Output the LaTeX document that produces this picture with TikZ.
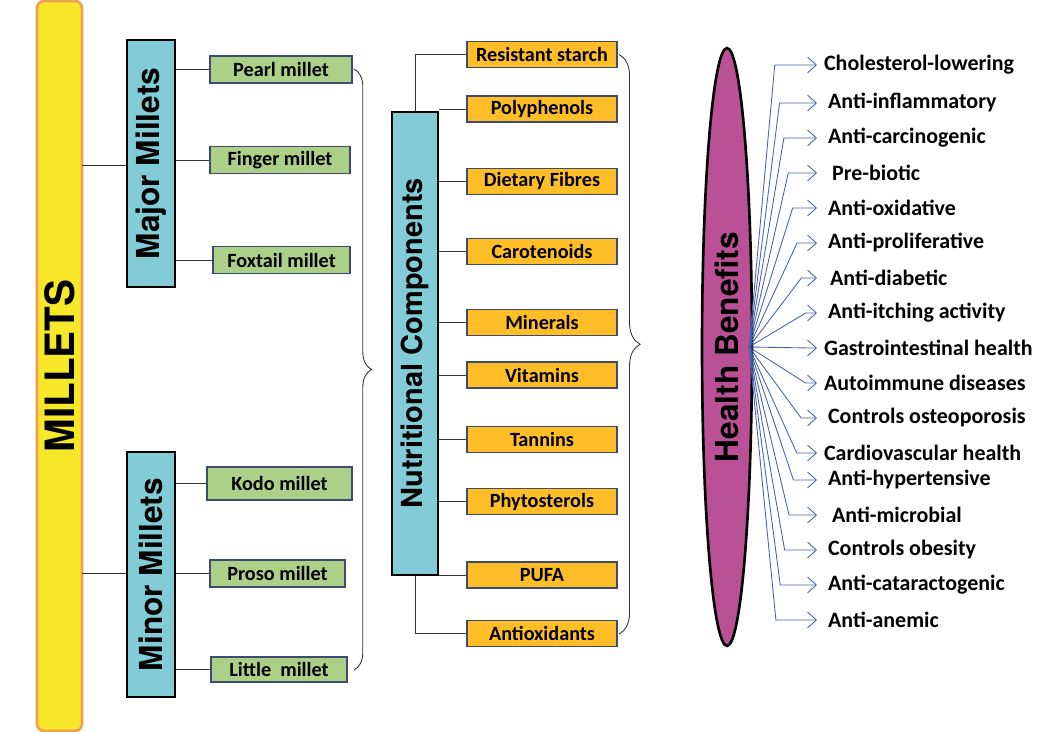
\documentclass[tikz,border=0pt]{standalone}
\usepackage{fontspec}
\setmainfont{Carlito}
\newfontfamily\headfont{TeX Gyre Heros}
\usetikzlibrary{shapes.geometric,decorations.pathreplacing,arrows.meta}
\definecolor{barYellow}{RGB}{246,232,40}
\definecolor{barOrange}{RGB}{240,160,80}
\definecolor{headCyan}{RGB}{130,204,216}
\definecolor{itemGreen}{RGB}{172,208,136}
\definecolor{itemOrange}{RGB}{255,190,40}
\definecolor{boxBlue}{RGB}{60,75,110}
\definecolor{hbMagenta}{RGB}{186,80,150}
\definecolor{arrowBlue}{RGB}{70,100,170}
\begin{document}
\begin{tikzpicture}[x=0.02cm,y=-0.02cm,
  head/.style={draw=black,line width=1.2pt,fill=headCyan,inner sep=0pt,
    font=\headfont\bfseries\fontsize{18}{20}\selectfont,rotate=90},
  green/.style={draw=boxBlue,line width=1pt,fill=itemGreen,minimum height=0.54cm,
    font=\bfseries\fontsize{11.5}{13}\selectfont,inner sep=0pt},
  orange/.style={draw=boxBlue,line width=1pt,fill=itemOrange,minimum width=3cm,
    minimum height=0.52cm,font=\bfseries\fontsize{11.5}{13}\selectfont,inner sep=0pt},
  benefit/.style={anchor=west,font=\bfseries\fontsize{12.5}{14}\selectfont,inner sep=1pt},
  link/.style={draw=black!80,line width=0.5pt},
  fan/.style={draw=arrowBlue,line width=0.5pt,-{Straight Barb[length=5pt,width=9pt]}}]
\useasboundingbox (0,0) rectangle (1050,732);

% Millets bar
\node[draw=barOrange,line width=1.5pt,fill=barYellow,rounded corners=4pt,
  minimum width=14.6cm,minimum height=0.9cm,rotate=90,inner sep=0pt,
  font=\headfont\bfseries\fontsize{23}{26}\selectfont] (millets) at (59.5,366) {MILLETS};

% Major and minor
\node[head,minimum width=4.94cm,minimum height=0.96cm] (major) at (151,163.5) {Major Millets};
\node[head,minimum width=4.9cm,minimum height=0.96cm] (minor) at (151,574.5) {Minor Millets};
\draw[link] (82,165) -- (major.north |- 0,165);
\draw[link] (82,573) -- (minor.north |- 0,573);

% Millet items
\node[green,minimum width=2.84cm] (pearl) at (281,69.5) {Pearl millet};
\node[green,minimum width=2.8cm] (finger) at (280,160) {Finger millet};
\node[green,minimum width=2.74cm] (foxtail) at (281.5,260) {Foxtail millet};
\node[green,minimum width=2.9cm,minimum height=0.66cm] (kodo) at (279.5,483.5) {Kodo millet};
\node[green,minimum width=2.7cm] (proso) at (277.5,573.5) {Proso millet};
\node[green,minimum width=2.72cm,minimum height=0.5cm] (little) at (279,669.5) {Little\ \ millet};
\foreach \n in {pearl,finger,foxtail}
  \draw[link] (major.south |- \n.west) -- (\n.west);
\foreach \n in {kodo,proso,little}
  \draw[link] (minor.south |- \n.west) -- (\n.west);
\draw[link,decorate,decoration={brace,amplitude=10pt,aspect=0.5}]
  (354,69) -- (354,670);

% Nutritional components
\node[head,minimum width=9.26cm,minimum height=0.92cm,
  font=\headfont\bfseries\fontsize{16.5}{18}\selectfont] (nutri) at (415,343.5) {Nutritional Components};
\foreach \n/\t/\y in {starch/Resistant starch/54.5, poly/Polyphenols/109,
    fibre/Dietary Fibres/181.5, carot/Carotenoids/251.5, mineral/Minerals/322.5,
    vitamin/Vitamins/375, tannin/Tannins/439.5, phyto/Phytosterols/501.5,
    pufa/PUFA/575, antiox/Antioxidants/633.5}
  \node[orange] (\n) at (542,\y) {\t};
\draw[link] (nutri.east) -- (415,54.5) -- (starch.west);
\draw[link] (nutri.west) -- (415,633.5) -- (antiox.west);
\foreach \n in {poly,fibre,carot,mineral,vitamin,tannin,phyto,pufa}
  \draw[link] (nutri.south |- \n.west) -- (\n.west);
\draw[link,decorate,decoration={brace,amplitude=12pt,aspect=0.5}]
  (619,54.5) -- (619,634);

% Health benefits
\node[draw=black,line width=1.5pt,fill=hbMagenta,ellipse,minimum width=1cm,
  minimum height=11.96cm,inner sep=0pt] (health) at (727,347) {};
\node[rotate=90,font=\headfont\bfseries\fontsize{18}{20}\selectfont] at (health) {Health Benefits};
\coordinate (hub) at (749,347);
\foreach \t/\y/\dx in {Cholesterol-lowering/65/0, Anti-inflammatory/103/4,
    Anti-carcinogenic/138/4, Pre-biotic/173/8, Anti-oxidative/208/4,
    Anti-proliferative/243/4, Anti-diabetic/278/6, Anti-itching activity/313/4,
    Gastrointestinal health/348/0, Autoimmune diseases/383/0,
    Controls osteoporosis/418/4, Cardiovascular health/453/0,
    Anti-hypertensive/480/4, Anti-microbial/515/8, Controls obesity/550/4,
    Anti-cataractogenic/585/4, Anti-anemic/620/4}{
  \node[benefit] (b\y) at (822+\dx,\y) {\t};
  \pgfmathsetmacro{\ex}{810-0.125*abs(\y-347)}
  \draw[fan] (hub) -- (\ex,\y) -- (817,\y);
}
\end{tikzpicture}
\end{document}
